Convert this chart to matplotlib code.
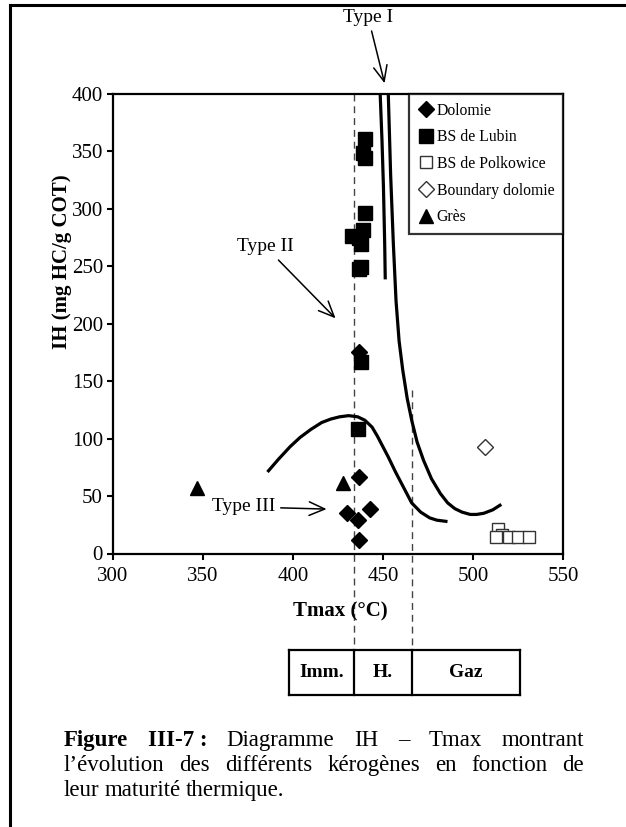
import numpy as np
import matplotlib.pyplot as plt
from matplotlib.lines import Line2D

plt.rcParams['font.family'] = ['Liberation Serif', 'DejaVu Serif']

# ---- data ----
dolomie_t = [437, 437, 443, 430, 436, 437]
dolomie_ih = [175, 67, 39, 35, 29, 12]

lubin_t = [440, 439, 440, 440, 439, 433, 437, 438, 437, 438, 438, 436]
lubin_ih = [361, 349, 344, 296, 282, 276, 275, 269, 248, 249, 167, 108]

polko_t = [514, 516, 513, 520, 525, 531]
polko_ih = [21, 16, 14, 14, 14, 14]

boundary_t = [506.5]
boundary_ih = [93]

gres_t = [347, 428]
gres_ih = [57, 61]

# kerogen evolution curves
type1_t = [448.5, 449.5, 450.3, 451.0, 451.3]
type1_ih = [400, 360, 320, 270, 240]

type2_t = [453, 454.3, 455.8, 457.3, 459, 461, 463.5, 466, 469, 472.6, 477, 482, 486,
           490, 494, 498.5, 502, 506, 511, 515]
type2_ih = [400, 330, 270, 220, 185, 160, 135, 116, 97, 81, 65, 52, 44,
            39, 36, 34, 34, 35, 38, 42]

type3_t = [386.5, 392, 398.5, 404, 410, 416, 421, 426, 431, 436, 440, 444, 447, 450,
           453, 457, 462, 466, 471, 476, 480, 485]
type3_ih = [72, 82, 93, 101, 108, 114, 117, 119, 120, 119, 116, 110, 102, 93,
            84, 71, 56, 44, 36, 31, 29, 28]

imm_limit = 433.7
gas_limit = 466
zone_labels = ['Imm.', 'H.', 'Gaz']

xticks = [300, 350, 400, 450, 500, 550]
yticks = [0, 50, 100, 150, 200, 250, 300, 350, 400]

W, H = 626, 827
fig = plt.figure(figsize=(W / 100, H / 100), dpi=100)


def fx(px):
    return px / W


def fy(py):
    return 1 - py / H


# outer page frame
fig.add_artist(Line2D([fx(10), 1], [fy(5), fy(5)], color='black', lw=2.2))
fig.add_artist(Line2D([fx(10), fx(10)], [fy(5), 0], color='black', lw=2.2))

ax = fig.add_axes([fx(112.7), fy(553.5), fx(563) - fx(112.7), fy(94) - fy(553.5)])
ax.set_xlim(300, 550)
ax.set_ylim(0, 400)
ax.set_xticks(xticks)
ax.set_yticks(yticks)
ax.tick_params(direction='out', length=4, width=1.5, labelsize=15)
ax.tick_params(axis='x', pad=6)
ax.tick_params(axis='y', pad=3)
for s in ax.spines.values():
    s.set_linewidth(1.6)

# maturity limits
ax.plot([imm_limit, imm_limit], [400, -85], ls=(0, (5, 3.5)), color='#444444', lw=1,
        clip_on=False, zorder=1)
ax.plot([gas_limit, gas_limit], [142, -85], ls=(0, (5, 3.5)), color='#444444', lw=1,
        clip_on=False, zorder=1)

ax.plot(type1_t, type1_ih, color='black', lw=2.3)
ax.plot(type2_t, type2_ih, color='black', lw=2.3)
ax.plot(type3_t, type3_ih, color='black', lw=2.3)

ax.plot(dolomie_t, dolomie_ih, 'D', color='black', ms=8.5, ls='none', label='Dolomie')
ax.plot(lubin_t, lubin_ih, 's', color='black', ms=9.5, ls='none', label='BS de Lubin')
ax.plot(polko_t, polko_ih, 's', mfc='white', mec='#333333', mew=1, ms=8.5, ls='none',
        label='BS de Polkowice')
ax.plot(boundary_t, boundary_ih, 'D', mfc='white', mec='#333333', mew=1, ms=8.5,
        ls='none', label='Boundary dolomie')
ax.plot(gres_t, gres_ih, '^', color='black', ms=10, ls='none', label='Grès')

leg = ax.legend(loc='upper right', bbox_to_anchor=(1, 1), borderaxespad=0,
                fontsize=11.3, frameon=True, fancybox=False, edgecolor='black',
                handletextpad=0.2, handlelength=1.0, labelspacing=0.68,
                borderpad=0.55)
leg.get_frame().set_linewidth(1.6)

arrow = dict(arrowstyle='->,head_length=0.8,head_width=0.35', color='black', lw=1.1)
ax.annotate('Type I', xy=(451.3, 407), xytext=(441.8, 467), fontsize=14,
            ha='center', va='center', arrowprops=arrow, annotation_clip=False)
ax.annotate('Type II', xy=(424.8, 203), xytext=(384.8, 267), fontsize=14,
            ha='center', va='center', arrowprops=arrow)
ax.annotate('Type III', xy=(420.3, 38.6), xytext=(372.6, 40.6), fontsize=14,
            ha='center', va='center', arrowprops=arrow)

fig.text(fx(62), fy(262), 'IH (mg HC/g COT)', rotation=90, fontsize=15,
         fontweight='bold', ha='center', va='center')
fig.text(fx(340), fy(611), 'Tmax (°C)', fontsize=15, fontweight='bold',
         ha='center', va='center')

# maturity zones table
tab_left, tab_right, tab_top, tab_bot = 289, 520, 650, 695
x_imm = ax.transData.transform((imm_limit, 0))[0]
x_gas = ax.transData.transform((gas_limit, 0))[0]
edges = [tab_left, x_imm, x_gas, tab_right]
for xe in edges:
    fig.add_artist(Line2D([fx(xe), fx(xe)], [fy(tab_top), fy(tab_bot)], color='black', lw=1.6))
for ye in (tab_top, tab_bot):
    fig.add_artist(Line2D([fx(tab_left), fx(tab_right)], [fy(ye), fy(ye)], color='black', lw=1.6))
for i, lab in enumerate(zone_labels):
    fig.text(fx((edges[i] + edges[i + 1]) / 2), fy((tab_top + tab_bot) / 2), lab,
             fontsize=14, fontweight='bold', ha='center', va='center')

# justified caption
caption = [
    [('Figure', 'bold'), ('III-7 :', 'bold'), ('Diagramme', 'normal'), ('IH', 'normal'),
     ('–', 'normal'), ('Tmax', 'normal'), ('montrant', 'normal')],
    [(w, 'normal') for w in 'l’évolution des différents kérogènes en fonction de'.split()],
    [(w, 'normal') for w in 'leur maturité thermique.'.split()],
]
cap_left, cap_right = 64, 584
cap_base = [746, 771, 796]
renderer = fig.canvas.get_renderer()
for li, words in enumerate(caption):
    texts = [fig.text(0, fy(cap_base[li]), w, fontsize=16.5, fontweight=wt, va='baseline')
             for w, wt in words]
    widths = [t.get_window_extent(renderer).width for t in texts]
    if li < len(caption) - 1:
        gap = (cap_right - cap_left - sum(widths)) / (len(words) - 1)
    else:
        gap = 5
    x = cap_left
    for t, wd in zip(texts, widths):
        t.set_x(fx(x))
        x += wd + gap

fig.savefig('out.png', dpi=100)
